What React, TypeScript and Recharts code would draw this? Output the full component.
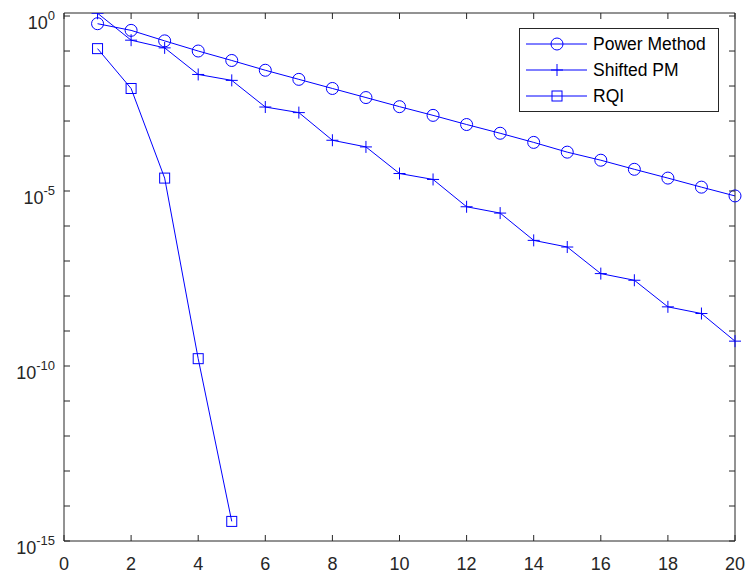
import React from 'react';
import { LineChart, Line, XAxis, YAxis, Legend } from 'recharts';

// iteration number on the x axis
const iterations = [1, 2, 3, 4, 5, 6, 7, 8, 9, 10, 11, 12, 13, 14, 15, 16, 17, 18, 19, 20];

// error per iteration
const powerMethod = [
  0.603, 0.389, 0.195, 0.1, 0.0537, 0.0282, 0.0155, 8.51e-3, 4.68e-3, 2.57e-3,
  1.45e-3, 7.94e-4, 4.47e-4, 2.45e-4, 1.29e-4, 7.59e-5, 4.17e-5, 2.34e-5, 1.29e-5, 7.24e-6,
];
const shiftedPM = [
  1.2, 0.204, 0.123, 0.0214, 0.0145, 2.51e-3, 1.74e-3, 2.82e-4, 1.82e-4, 3.16e-5,
  2.14e-5, 3.55e-6, 2.34e-6, 3.89e-7, 2.51e-7, 4.37e-8, 2.82e-8, 4.9e-9, 3.16e-9, 5.13e-10,
];
const rqi = [0.117, 8.5e-3, 2.34e-5, 1.62e-10, 3.63e-15];

const xTicks = [0, 2, 4, 6, 8, 10, 12, 14, 16, 18, 20];
const yTicks = [
  1e-15, 1e-14, 1e-13, 1e-12, 1e-11, 1e-10, 1e-9, 1e-8, 1e-7, 1e-6,
  1e-5, 1e-4, 1e-3, 1e-2, 1e-1, 1,
];
const yLabelled = [1e-15, 1e-10, 1e-5, 1];

const data = iterations.map((it, i) => ({
  it,
  pm: powerMethod[i],
  spm: shiftedPM[i],
  rqi: rqi[i],
}));

const W = 748;
const H = 575;
const LEFT = 64;
const RIGHT = 735;
const TOP = 13;
const BOTTOM = 541;
const BLUE = '#0000ff';
const AXIS = '#262626';
const FONT = '"Liberation Sans", Arial, Helvetica, sans-serif';

const isLabelled = (v: number) => yLabelled.some((t) => Math.abs(Math.log10(v) - Math.log10(t)) < 0.01);

const LeftTick = (props: any) => {
  const { y, payload } = props;
  const v = payload.value;
  const exp = Math.round(Math.log10(v));
  return (
    <g>
      <line x1={LEFT} x2={LEFT + 6} y1={y} y2={y} stroke={AXIS} />
      {isLabelled(v) && (
        <text x={55} y={y + 13} textAnchor="end" fill={AXIS} fontSize={18} fontFamily={FONT}>
          <tspan>10</tspan>
          <tspan dy={-9} fontSize={13}>{String(exp)}</tspan>
        </text>
      )}
    </g>
  );
};

const RightTick = (props: any) => (
  <line x1={RIGHT} x2={RIGHT - 6} y1={props.y} y2={props.y} stroke={AXIS} />
);

const BottomTick = (props: any) => {
  const { x, payload } = props;
  return (
    <g>
      <line x1={x} x2={x} y1={BOTTOM} y2={BOTTOM - 6} stroke={AXIS} />
      <text x={x} y={BOTTOM + 29} textAnchor="middle" fill={AXIS} fontSize={18} fontFamily={FONT}>
        {payload.value}
      </text>
    </g>
  );
};

const TopTick = (props: any) => (
  <line x1={props.x} x2={props.x} y1={TOP} y2={TOP + 6} stroke={AXIS} />
);

const circleDot = (props: any) => {
  const { cx, cy, index } = props;
  if (cx == null || cy == null) return <g key={`pm-${index}`} />;
  return <circle key={`pm-${index}`} cx={cx} cy={cy} r={6} fill="none" stroke={BLUE} strokeWidth={1} />;
};

const plusDot = (props: any) => {
  const { cx, cy, index } = props;
  if (cx == null || cy == null) return <g key={`spm-${index}`} />;
  return (
    <path
      key={`spm-${index}`}
      d={`M${cx - 6},${cy}H${cx + 6}M${cx},${cy - 6}V${cy + 6}`}
      stroke={BLUE}
      strokeWidth={1}
      fill="none"
    />
  );
};

const squareDot = (props: any) => {
  const { cx, cy, index } = props;
  if (cx == null || cy == null) return <g key={`rqi-${index}`} />;
  return <rect key={`rqi-${index}`} x={cx - 5} y={cy - 5} width={10} height={10} fill="none" stroke={BLUE} strokeWidth={1} />;
};

const legendItems = [
  { label: 'Power Method', marker: 'circle' },
  { label: 'Shifted PM', marker: 'plus' },
  { label: 'RQI', marker: 'square' },
];

const LegendBox = () => (
  <svg width={200} height={84} style={{ display: 'block' }}>
    <rect x={0.5} y={0.5} width={199} height={83} fill="#fff" stroke={AXIS} />
    {legendItems.map((item, i) => {
      const cy = 16 + i * 26;
      const mx = 38;
      return (
        <g key={item.label}>
          <line x1={7} x2={68} y1={cy} y2={cy} stroke={BLUE} />
          {item.marker === 'circle' && <circle cx={mx} cy={cy} r={6} fill="none" stroke={BLUE} />}
          {item.marker === 'plus' && (
            <path d={`M${mx - 6},${cy}H${mx + 6}M${mx},${cy - 6}V${cy + 6}`} stroke={BLUE} fill="none" />
          )}
          {item.marker === 'square' && (
            <rect x={mx - 5} y={cy - 5} width={10} height={10} fill="none" stroke={BLUE} />
          )}
          <text x={74} y={cy + 6} fontSize={17.5} fill="#000" fontFamily={FONT}>
            {item.label}
          </text>
        </g>
      );
    })}
  </svg>
);

export default function App() {
  return (
    <div style={{ width: W, height: H, background: '#fff' }}>
      <style>{'body{margin:0}'}</style>
      <LineChart width={W} height={H} data={data} margin={{ top: 0, right: 0, bottom: 0, left: 0 }}>
        <XAxis
          xAxisId="bottom"
          dataKey="it"
          type="number"
          domain={[0, 20]}
          ticks={xTicks}
          interval={0}
          height={H - BOTTOM}
          axisLine={{ stroke: AXIS }}
          tickLine={false}
          tickSize={0}
          tick={<BottomTick />}
        />
        <XAxis
          xAxisId="top"
          orientation="top"
          dataKey="it"
          type="number"
          domain={[0, 20]}
          ticks={xTicks}
          interval={0}
          height={TOP}
          axisLine={{ stroke: AXIS }}
          tickLine={false}
          tickSize={0}
          tick={<TopTick />}
        />
        <YAxis
          yAxisId="left"
          scale="log"
          type="number"
          domain={[1e-15, 1.22]}
          allowDataOverflow
          ticks={yTicks}
          interval={0}
          width={LEFT}
          axisLine={{ stroke: AXIS }}
          tickLine={false}
          tickSize={0}
          tick={<LeftTick />}
        />
        <YAxis
          yAxisId="right"
          orientation="right"
          scale="log"
          type="number"
          domain={[1e-15, 1.22]}
          allowDataOverflow
          ticks={yTicks}
          interval={0}
          width={W - RIGHT}
          axisLine={{ stroke: AXIS }}
          tickLine={false}
          tickSize={0}
          tick={<RightTick />}
        />
        <Legend
          layout="horizontal"
          verticalAlign="middle"
          align="center"
          content={<LegendBox />}
          wrapperStyle={{ position: 'absolute', left: 519, top: 28, width: 200, height: 84 }}
        />
        <Line
          xAxisId="bottom"
          yAxisId="left"
          dataKey="pm"
          name="Power Method"
          stroke={BLUE}
          strokeWidth={1}
          dot={circleDot}
          activeDot={false}
          isAnimationActive={false}
        />
        <Line
          xAxisId="bottom"
          yAxisId="left"
          dataKey="spm"
          name="Shifted PM"
          stroke={BLUE}
          strokeWidth={1}
          dot={plusDot}
          activeDot={false}
          isAnimationActive={false}
        />
        <Line
          xAxisId="bottom"
          yAxisId="left"
          dataKey="rqi"
          name="RQI"
          stroke={BLUE}
          strokeWidth={1}
          dot={squareDot}
          activeDot={false}
          isAnimationActive={false}
        />
      </LineChart>
    </div>
  );
}
